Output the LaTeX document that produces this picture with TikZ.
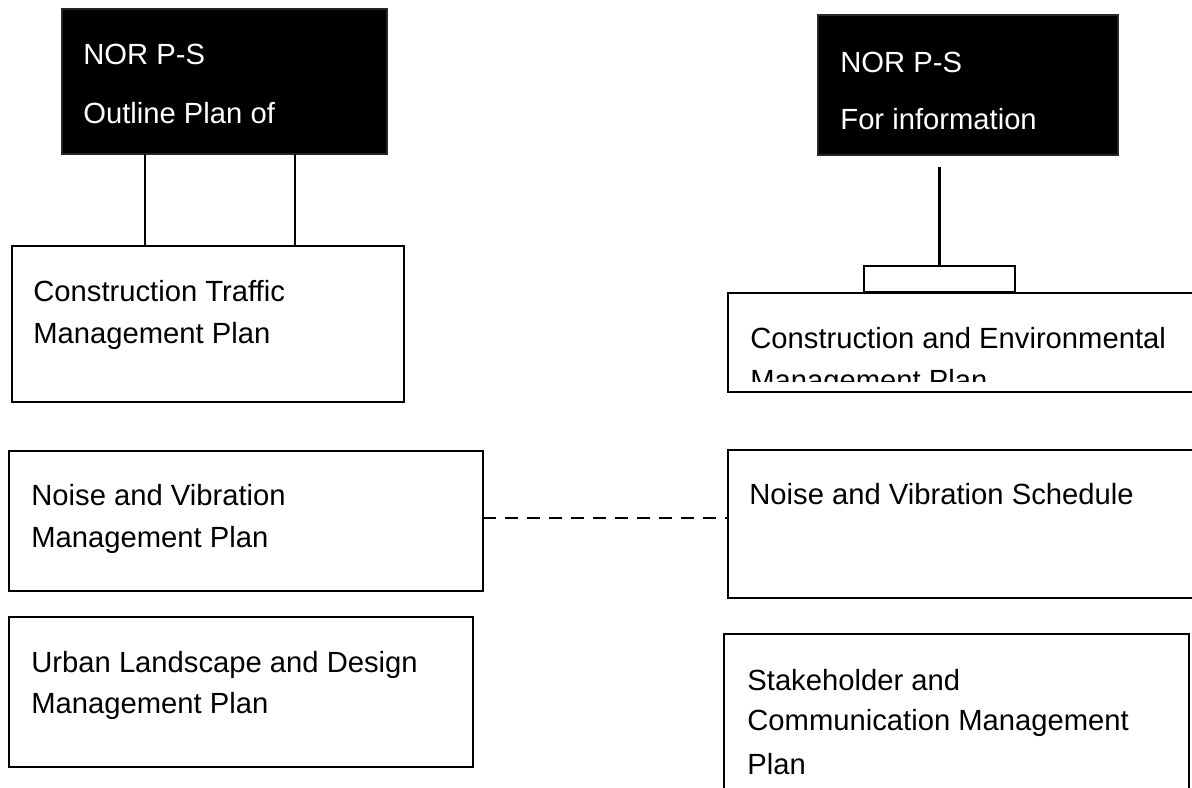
\documentclass[tikz,border=0pt]{standalone}
\usepackage{fontspec}
\setmainfont{Liberation Sans}
\usetikzlibrary{calc}
\begin{document}
\begin{tikzpicture}[x=0.5pt,y=-0.5pt,
  boxst/.style={draw=black, line width=1.2pt, rectangle, inner sep=0pt, outer sep=0pt, anchor=north west},
  blackst/.style={boxst, fill=black, draw=black!85},
  txt/.style={anchor=base west, inner sep=0pt, font=\fontsize{14.6pt}{17pt}\selectfont},
  wtxt/.style={txt, text=white},
  conn/.style={line width=1.2pt},
  dconn/.style={line width=1pt, dash pattern=on 6.5pt off 4.5pt}
]
\useasboundingbox (0,0) rectangle (1192,787);
\clip (0,0) rectangle (1192,787);

% boxes
\node[blackst, minimum width=162.5pt, minimum height=72.5pt] (blackL) at (62,9) {};
\node[blackst, minimum width=150pt, minimum height=70pt] (blackR) at (818,15) {};
\node[boxst, minimum width=196pt, minimum height=78pt] (ctmp) at (12,246) {};
\node[boxst, minimum width=75.5pt, minimum height=13pt] (small) at (864,266) {};
\node[boxst, minimum width=236pt, minimum height=49.5pt] (cemp) at (728,293) {};
\node[boxst, minimum width=237pt, minimum height=70pt] (nvmp) at (9,451) {};
\node[boxst, minimum width=236pt, minimum height=74pt] (nvs) at (728,450) {};
\node[boxst, minimum width=232pt, minimum height=75pt] (ulmp) at (9,617) {};
\node[boxst, minimum width=232.5pt, minimum height=83pt] (scmp) at (724,634) {};

% texts
\node[wtxt] (tL1) at (83,64) {NOR P-S};
\node[wtxt] (tL2) at (83,123) {Outline Plan of};
\node[wtxt] (tR1) at (840,72) {NOR P-S};
\node[wtxt] (tR2) at (840,129) {For information};
\node[txt] (tc1) at (33,301) {Construction Traffic};
\node[txt] (tc2) at (33,343) {Management Plan};
\node[txt] (te1) at (750,348) {Construction and Environmental};
\begin{scope}
  \clip (728,293) rectangle (1192,381);
  \node[txt] (te2) at (750,390) {Management Plan};
\end{scope}
\node[txt] (tn1) at (31,505) {Noise and Vibration};
\node[txt] (tn2) at (31,547) {Management Plan};
\node[txt] (ts1) at (749,504) {Noise and Vibration Schedule};
\node[txt] (tu1) at (31,672) {Urban Landscape and Design};
\node[txt] (tu2) at (31,713) {Management Plan};
\node[txt] (tk1) at (747,690) {Stakeholder and};
\node[txt] (tk2) at (747,730) {Communication Management};
\node[txt] (tk3) at (747,774) {Plan};

% connectors
\draw[conn] ([xshift=41.5pt]blackL.south west) -- ([xshift=41.5pt]blackL.south west |- ctmp.north);
\draw[conn] ([xshift=116.5pt]blackL.south west) -- ([xshift=116.5pt]blackL.south west |- ctmp.north);
\draw[conn] ($(small.north |- blackR.south)+(0,12)$) -- (small.north);
\draw[dconn] ([yshift=1.5pt]nvmp.east) -- ([yshift=1.5pt]nvmp.east -| nvs.west);
\end{tikzpicture}
\end{document}
